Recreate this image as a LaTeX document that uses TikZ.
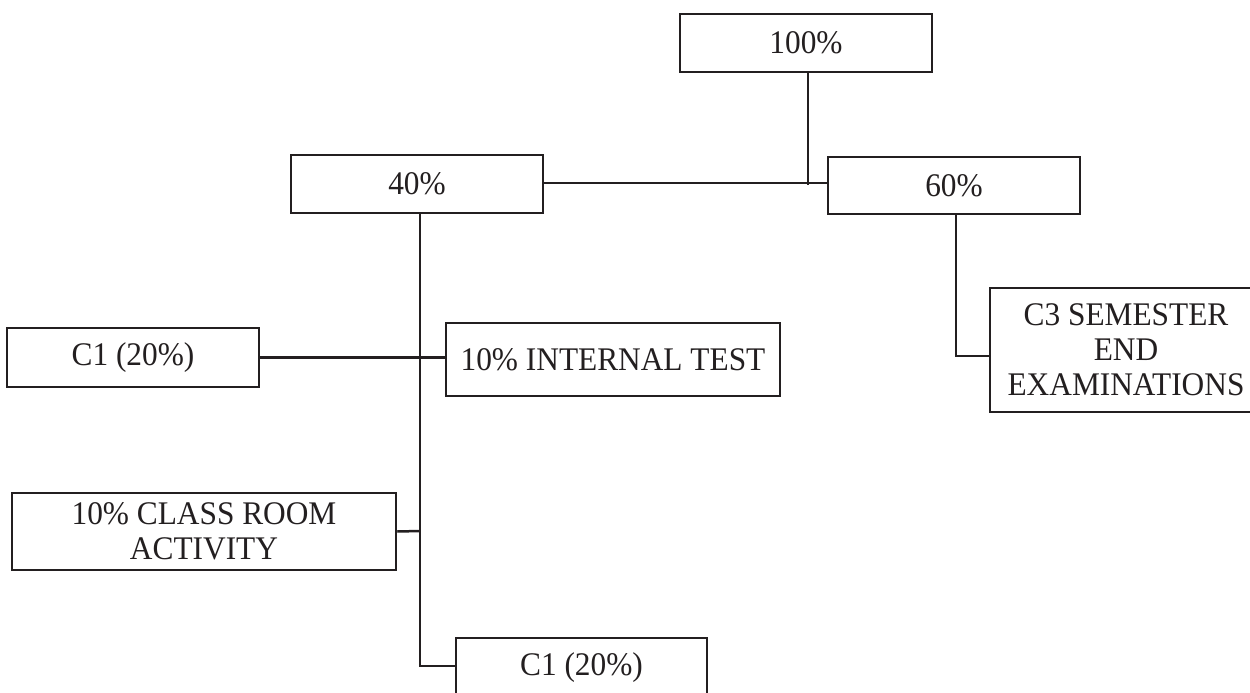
\documentclass[tikz,border=0pt]{standalone}
\usepackage{fontspec}
\setmainfont{Liberation Serif}[FakeStretch=0.95]
\definecolor{ink}{RGB}{35,31,32}
\begin{document}
\begin{tikzpicture}[x=1pt,y=-1pt,
  box/.style={draw=ink, line width=2.5pt, rectangle, inner sep=0pt, align=center, text=ink,
    font=\fontsize{33}{35}\selectfont},
  conn/.style={draw=ink, line width=2.5pt}]
\useasboundingbox (0,0) rectangle (1250,693);
\clip (0,0) rectangle (1250,693);
\fill[white] (0,0) rectangle (1250,693);
% nodes
\node[box, minimum width=252pt, minimum height=58pt] (top) at (806,43) {100\%};
\node[box, minimum width=252pt, minimum height=58pt] (n40) at (417,184) {40\%};
\node[box, minimum width=252pt, minimum height=57pt] (n60) at (954,185.5) {60\%};
\node[box, minimum width=252pt, minimum height=59pt] (c1a) at (133,357.5) {C1 (20\%)};
\node[box, minimum width=334pt, minimum height=73pt] (it) at (613,359.5) {10\% INTERNAL TEST};
\node[box, minimum width=384pt, minimum height=77pt] (cr) at (204,531.5) {10\% CLASS ROOM\\ACTIVITY};
\node[box, minimum width=251pt, minimum height=59pt] (c1b) at (581.5,667.5) {C1 (20\%)};
\node[box, minimum width=272pt, minimum height=124pt] (c3) at (1126,350) {C3 SEMESTER\\END\\EXAMINATIONS};
% junction coordinates
\coordinate (j0) at (808,185);
\coordinate (jcr) at (420,531);
% connectors
\draw[conn] ([xshift=2pt]top.south) -- (j0);
\draw[conn] ([yshift=1pt]n40.east) -- ([yshift=1pt]n40.east -| n60.west);
\draw[conn] ([xshift=3pt]n40.south) |- ([yshift=1.5pt]c1b.west);
\draw[conn] (c1a.east) -- (c1a.east -| it.west);
\draw[conn] (cr.east) -- (jcr);
\draw[conn] ([xshift=2pt]n60.south) |- ([yshift=-6pt]c3.west);
\end{tikzpicture}
\end{document}
